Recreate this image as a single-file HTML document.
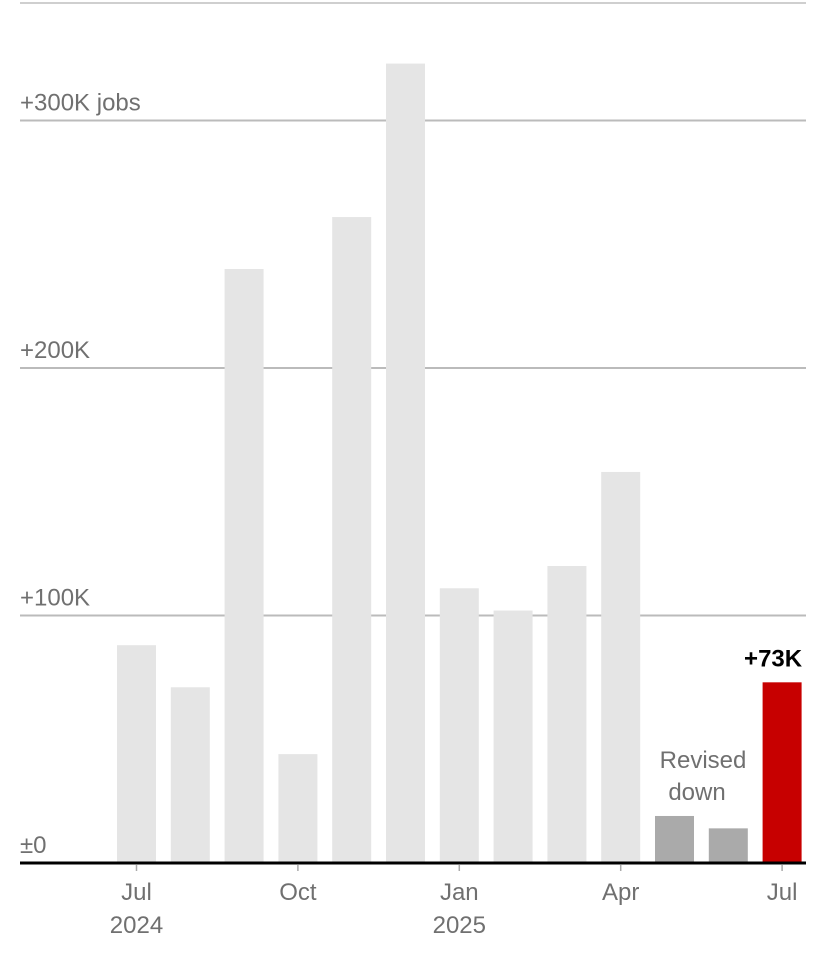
<!DOCTYPE html>
<html><head><meta charset="utf-8"><style>
html,body{margin:0;padding:0;background:#fff;}
svg{display:block;font-family:"Liberation Sans",sans-serif;}
</style></head><body>
<svg id="chart" width="828" height="958" viewBox="0 0 828 958" xmlns="http://www.w3.org/2000/svg">
<line x1="20" y1="3" x2="806" y2="3" stroke="#cfcfcf" stroke-width="2"/>
<g id="grid"></g>
<g id="bars"></g>
<g id="axis"></g>
<text x="703" y="768" text-anchor="middle" font-size="24" fill="#707070">Revised</text>
<text x="697" y="800" text-anchor="middle" font-size="24" fill="#707070">down</text>
</svg>
<script>
const months = ["2024-07","2024-08","2024-09","2024-10","2024-11","2024-12","2025-01","2025-02","2025-03","2025-04","2025-05","2025-06","2025-07"];
const jobs = [88, 71, 240, 44, 261, 323, 111, 102, 120, 158, 19, 14, 73];
const barKinds = ["old","old","old","old","old","old","old","old","old","old","revised","revised","latest"];
const gridValues = [0, 100, 200, 300];
const gridLabels = ["±0", "+100K", "+200K", "+300K jobs"];
const tickIndex = [0, 3, 6, 9, 12];
const tickMonths = ["Jul", "Oct", "Jan", "Apr", "Jul"];
const tickYears = ["2024", "", "2025", "", ""];
const highlightLabel = "+73K";

const NS = "http://www.w3.org/2000/svg";
const y0 = 863, pxPer = 2.475;
const yScale = v => y0 - v * pxPer;
const xCenter = i => 136.5 + i * 53.8;
const barW = 39;
const colors = {old:"#e5e5e5", revised:"#aaaaaa", latest:"#c70000"};
function mk(tag, attrs, parent){const e=document.createElementNS(NS,tag);for(const k in attrs)e.setAttribute(k,attrs[k]);parent.appendChild(e);return e;}

const grid = document.getElementById("grid");
gridValues.forEach((v,i)=>{
  if (v !== 0) {
    const l = mk("line",{x1:20,x2:806,y1:yScale(v),y2:yScale(v),stroke:"#bbbbbb","stroke-width":2},grid);
    
    
  }
  const t = mk("text",{x:20,y:yScale(v)-10,"font-size":24,fill:"#707070"},grid);
  t.textContent = gridLabels[i];
  
  
});

const bars = document.getElementById("bars");
jobs.forEach((v,i)=>{
  const r = mk("rect",{x:xCenter(i)-barW/2,y:yScale(v),width:barW,height:y0-yScale(v),fill:colors[barKinds[i]]},bars);
  
  
});
const last = jobs.length-1;
const hl = mk("text",{x:xCenter(last)+20,y:yScale(jobs[last])-16,"text-anchor":"end","font-size":24,"font-weight":"bold",fill:"#000"},bars);
hl.textContent = highlightLabel;



const axis = document.getElementById("axis");
const al = mk("line",{x1:20,x2:806,y1:y0,y2:y0,stroke:"#000","stroke-width":3},axis);


tickIndex.forEach((idx,i)=>{
  const x = xCenter(idx);
  const tk = mk("line",{x1:x,x2:x,y1:865,y2:871,stroke:"#aaa","stroke-width":1.5},axis);
  
  
  const t = mk("text",{x:x,y:900,"text-anchor":"middle","font-size":24,fill:"#707070"},axis);
  t.textContent = tickMonths[i];
  
  
  if (tickYears[i]) {
    const ty = mk("text",{x:x,y:933,"text-anchor":"middle","font-size":24,fill:"#707070"},axis);
    ty.textContent = tickYears[i];
    
    
  }
});
</script>
</body></html>
